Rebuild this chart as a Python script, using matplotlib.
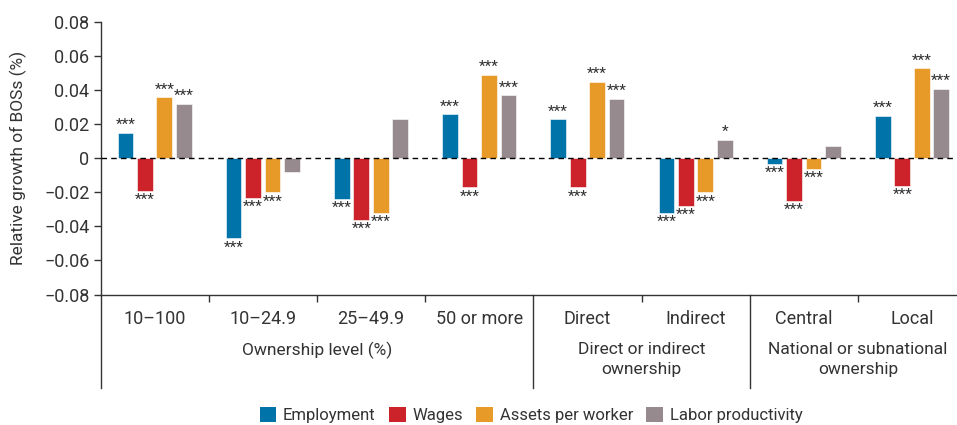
import matplotlib
matplotlib.use("Agg")
import matplotlib.pyplot as plt
from matplotlib.patches import Patch
import matplotlib.transforms as mtransforms

plt.rcParams['font.family'] = ['Roboto', 'DejaVu Sans']

categories = ["10–100", "10–24.9", "25–49.9", "50 or more", "Direct", "Indirect", "Central", "Local"]
groups = ["Ownership level (%)", "Direct or indirect\nownership", "National or subnational\nownership"]
group_spans = [(0, 3), (4, 5), (6, 7)]
series = ["Employment", "Wages", "Assets per worker", "Labor productivity"]
colors = ["#0073A8", "#CC2229", "#E89A28", "#968A8F"]

employment = [0.015, -0.047, -0.024, 0.026, 0.023, -0.032, -0.003, 0.025]
wages = [-0.019, -0.023, -0.036, -0.017, -0.017, -0.028, -0.025, -0.016]
assets = [0.036, -0.020, -0.032, 0.049, 0.045, -0.020, -0.006, 0.053]
productivity = [0.032, -0.008, 0.023, 0.037, 0.035, 0.011, 0.007, 0.041]

sig_employment = ["***"] * 8
sig_wages = ["***"] * 8
sig_assets = ["***"] * 8
sig_productivity = ["***", "", "", "***", "***", "*", "", "***"]

values = [employment, wages, assets, productivity]
sigs = [sig_employment, sig_wages, sig_assets, sig_productivity]

yticks = [0.08, 0.06, 0.04, 0.02, 0, -0.02, -0.04, -0.06, -0.08]

W, H = 957, 425
fig = plt.figure(figsize=(W / 100, H / 100), dpi=100)
left_px, top_px, bot_px = 100.5, 22.3, 294.5
ax = fig.add_axes([left_px / W, 1 - bot_px / H, 1 - left_px / W, (bot_px - top_px) / H])

cat_w = 108.2
ax.set_xlim(-0.5, -0.5 + (W - left_px) / cat_w)
ax.set_ylim(-0.08, 0.08)

step = 0.18
bw = 0.145
for i, (vals, sg, col) in enumerate(zip(values, sigs, colors)):
    xs = [c + (i - 1.5) * step for c in range(len(categories))]
    ax.bar(xs, vals, width=bw, color=col, edgecolor='white', linewidth=0.4, zorder=2)
    for x, v, s in zip(xs, vals, sg):
        if not s:
            continue
        if v >= 0:
            ax.annotate(s, (x, v), xytext=(0, 0.5), textcoords='offset points',
                        ha='center', va='bottom', fontsize=11, color='#333333')
        else:
            ax.annotate(s, (x, v), xytext=(0, -1.5), textcoords='offset points',
                        ha='center', va='top', fontsize=11, color='#333333')

ax.axhline(0, color='black', linestyle=(0, (4, 3)), linewidth=1.0, zorder=3)

for s in ['top', 'right']:
    ax.spines[s].set_visible(False)
for s in ['left', 'bottom']:
    ax.spines[s].set_color('#333333')
    ax.spines[s].set_linewidth(1.0)

ax.set_yticks(yticks)
ax.set_yticklabels(["0" if t == 0 else f"{t:.2f}".replace("-", "−") for t in yticks])
ax.tick_params(axis='y', direction='out', length=5, width=1, color='#333333',
               labelsize=13, labelcolor='#333333', pad=3)

bounds = [0.5, 1.5, 2.5, 4.5, 6.5]
ax.set_xticks(bounds)
ax.set_xticklabels([""] * len(bounds))
ax.tick_params(axis='x', direction='out', length=5, width=1, color='#333333')

ax.set_ylabel("Relative growth of BOSs (%)", fontsize=12.5, color='#333333', labelpad=12)

trans = mtransforms.blended_transform_factory(ax.transData, ax.transAxes)
ax_h = bot_px - top_px
def ypx(p):
    return (bot_px - p) / ax_h

for c, name in enumerate(categories):
    ax.text(c, ypx(319), name, transform=trans, ha='center', va='center',
            fontsize=13, color='#333333')

for (a, b), g in zip(group_spans, groups):
    ax.text((a + b) / 2, ypx(342), g, transform=trans, ha='center', va='top',
            fontsize=12.5, color='#333333', linespacing=1.45)

for xb in [-0.5, 3.5, 5.5]:
    ax.plot([xb, xb], [0, ypx(388)], transform=trans, color='#333333',
            linewidth=1.0, clip_on=False)

handles = [Patch(facecolor=c, edgecolor='none') for c in colors]
fig.legend(handles, series, loc='center', bbox_to_anchor=(531 / W, 1 - 415 / H),
           ncol=4, frameon=False, fontsize=12, handlelength=1.0, handleheight=1.0,
           handletextpad=0.4, columnspacing=0.8, labelcolor='#333333')

fig.savefig("out.png", dpi=100)
